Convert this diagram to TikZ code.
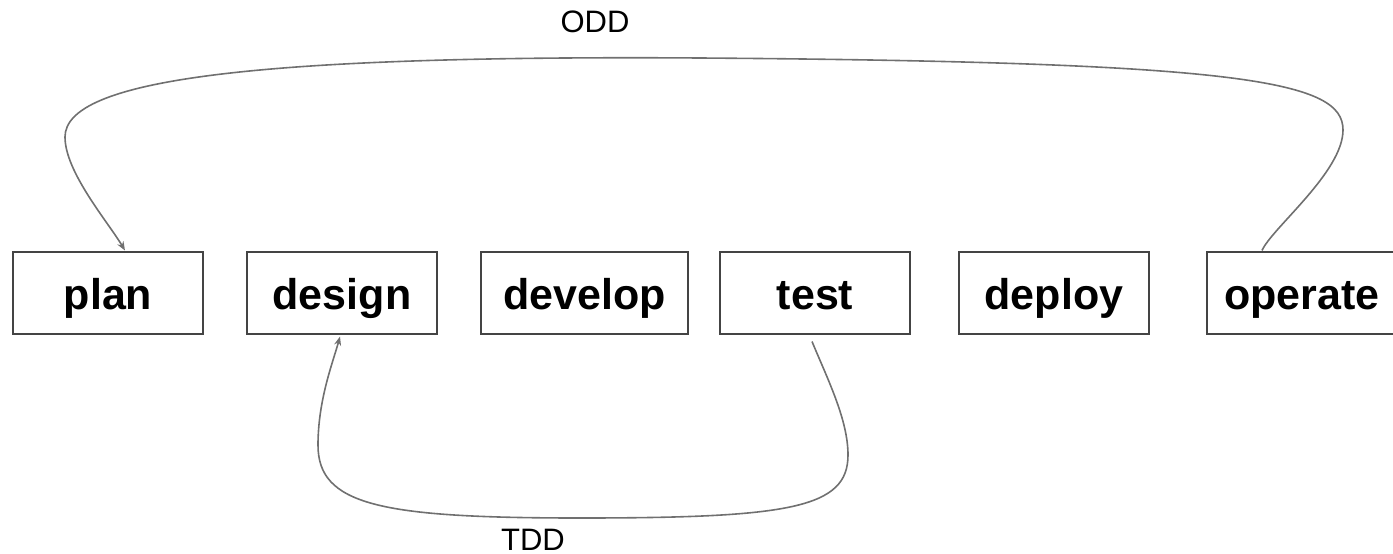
\documentclass[tikz,border=0pt]{standalone}
\usepackage{fontspec}
\setmainfont{Liberation Sans}
\usetikzlibrary{arrows.meta}
\definecolor{boxline}{HTML}{444444}
\definecolor{loopline}{HTML}{707070}
\tikzset{
  stage/.style={draw=boxline, line width=2pt, fill=white, minimum width=190pt,
    minimum height=82pt, inner sep=0pt, text height=40pt, text depth=7pt,
    font=\fontsize{43}{48}\selectfont\bfseries},
  loop/.style={draw=loopline, line width=1.6pt, -{Stealth[length=9pt,width=7pt]}},
  looplabel/.style={font=\fontsize{31}{36}\selectfont, text=black, inner sep=0pt}
}
\begin{document}
\begin{tikzpicture}[x=1pt, y=-1pt]
  \useasboundingbox (0,0) rectangle (1393,554);
  \clip (0,0) rectangle (1393,554);
  % the six lifecycle stages
  \node[stage] (plan)    at (108,292.5)   {plan};
  \node[stage] (design)  at (342,292.5)   {design};
  \node[stage, minimum width=207pt] (develop) at (584.5,292.5) {develop};
  \node[stage] (test)    at (815,292.5)   {test};
  \node[stage] (deploy)  at (1054,292.5)  {deploy};
  \node[stage] (operate) at (1302,292.5)  {operate};
  % loop labels
  \node[looplabel] (odd) at (595,22)  {ODD};
  \node[looplabel] (tdd) at (533,540) {TDD};
  % ODD: operate back to plan over the top
  \coordinate (oddstart) at ([xshift=-40pt]operate.north);
  \coordinate (oddend)   at ([xshift=17pt]plan.north);
  \draw[loop] (oddstart) .. controls (1272,228) and (1343,172) .. (1343,130)
    .. controls (1343,82) and (1250,62) .. (700,58)
    .. controls (250,55) and (65,80) .. (65,137)
    .. controls (65,172) and (108,222) .. (oddend);
  % TDD: test back to design underneath
  \coordinate (tddstart) at ([xshift=-3pt,yshift=-7pt]test.south);
  \coordinate (tddend)   at ([xshift=-2pt,yshift=-2pt]design.south);
  \draw[loop] (tddstart) .. controls (828,380) and (848,420) .. (848,455)
    .. controls (848,508) and (790,518) .. (580,518)
    .. controls (380,518) and (318,505) .. (318,445)
    .. controls (318,400) and (333,362) .. (tddend);
\end{tikzpicture}
\end{document}
